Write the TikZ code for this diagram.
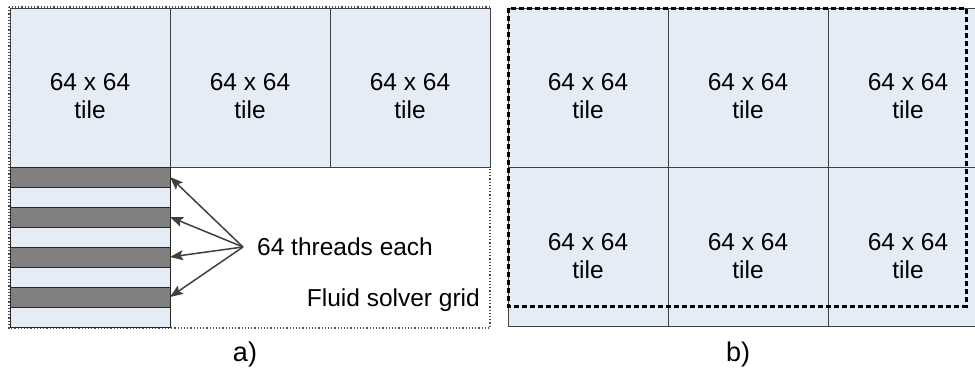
\documentclass[tikz,border=0pt]{standalone}
\usepackage{fontspec}
\setmainfont{Liberation Sans}
\usetikzlibrary{arrows.meta}
\definecolor{tilefill}{RGB}{230,236,246}
\definecolor{stripegray}{RGB}{128,128,128}
\definecolor{edgegray}{RGB}{64,64,64}
\tikzset{
  tilebox/.style={draw=edgegray, line width=1pt, fill=tilefill, minimum width=160pt, minimum height=159pt, inner sep=0pt, outer sep=0pt},
  tiletext/.style={align=center, font=\fontsize{24.5}{28}\selectfont, inner sep=0pt},
  stripebox/.style={draw=black!85, line width=1pt, fill=stripegray, minimum width=160pt, minimum height=20pt, inner sep=0pt, outer sep=0pt},
  lightbox/.style={stripebox, fill=tilefill},
  conn/.style={-{Stealth[length=13pt,width=10pt,inset=2.5pt]}, draw=edgegray, line width=1.5pt},
}
\begin{document}
\begin{tikzpicture}[x=1pt,y=-1pt]
\clip (0,0) rectangle (975,375);
% a) fluid solver grid
\draw[black!70, line width=1.1pt, dash pattern=on 1.2pt off 2pt] (9,7) rectangle (490,328);
\node[tilebox] (ta1) at (90,87.5) {};
\node[tilebox] (ta2) at (250,87.5) {};
\node[tilebox] (ta3) at (410,87.5) {};
\node[tiletext] (la1) at ([yshift=-9pt]ta1.center) {64 x 64\\tile};
\node[tiletext] (la2) at ([yshift=-9pt]ta2.center) {64 x 64\\tile};
\node[tiletext] (la3) at ([yshift=-9pt]ta3.center) {64 x 64\\tile};
\node[lightbox, minimum height=160pt] (column) at (90,247) {};
\node[stripebox] (s1) at (90,177) {};
\node[stripebox] (s2) at (90,217) {};
\node[stripebox] (s3) at (90,257) {};
\node[stripebox] (s4) at (90,297) {};
\coordinate (hub) at (243,247);
\draw[conn] (hub) -- (s1.east);
\draw[conn] (hub) -- (s2.east);
\draw[conn] (hub) -- (s3.east);
\draw[conn] (hub) -- (s4.east);
\node[tiletext, anchor=west] (threads) at (257,247) {64 threads each};
\node[tiletext, anchor=base east] (solver) at (480,306) {Fluid solver grid};
% b) tiles under the dashed frame
\node[tilebox] (tb1) at (588,87.5) {};
\node[tilebox] (tb2) at (748,87.5) {};
\node[tilebox] (tb3) at (908,87.5) {};
\node[tilebox] (tb4) at (588,247) {};
\node[tilebox] (tb5) at (748,247) {};
\node[tilebox] (tb6) at (908,247) {};
\node[tiletext] (lb1) at ([yshift=-9pt]tb1.center) {64 x 64\\tile};
\node[tiletext] (lb2) at ([yshift=-9pt]tb2.center) {64 x 64\\tile};
\node[tiletext] (lb3) at ([yshift=-9pt]tb3.center) {64 x 64\\tile};
\node[tiletext] (lb4) at ([yshift=-9pt]tb4.center) {64 x 64\\tile};
\node[tiletext] (lb5) at ([yshift=-9pt]tb5.center) {64 x 64\\tile};
\node[tiletext] (lb6) at ([yshift=-9pt]tb6.center) {64 x 64\\tile};
\draw[black, line width=3pt, dash pattern=on 5pt off 3pt] (508,8) rectangle (966,306);
% captions
\node[font=\fontsize{27}{30}\selectfont, inner sep=0pt] (capa) at (245,355) {a)};
\node[font=\fontsize{27}{30}\selectfont, inner sep=0pt] (capb) at (738,355) {b)};
\end{tikzpicture}
\end{document}
